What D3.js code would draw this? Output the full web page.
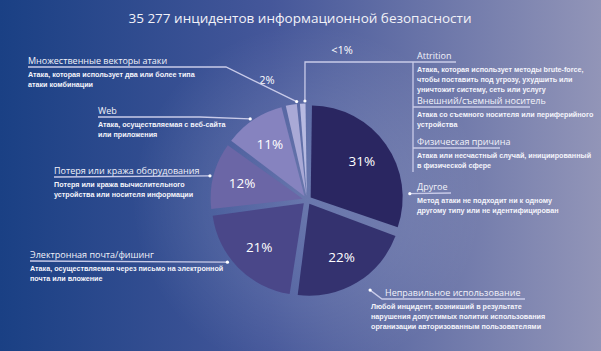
<!DOCTYPE html>
<html>
<head>
<meta charset="utf-8">
<script src="https://cdn.jsdelivr.net/npm/d3@7/dist/d3.min.js"></script>
<style>
  html, body { margin: 0; padding: 0; background: #1c4283; }
  svg { display: block; }
  .head { font-family: "Open Sans", sans-serif; font-size: 9px; fill: #f2f2fa; }
  .desc { font-family: "Liberation Sans Narrow", "Liberation Sans", sans-serif; font-stretch: condensed; font-weight: bold; font-size: 7.2px; fill: #f4f4fb; }
  .pct { font-family: "Open Sans", sans-serif; font-size: 13.5px; fill: #ffffff; }
</style>
</head>
<body>
<script>
// ---------- data ----------
const title = "35 277 инцидентов информационной безопасности";
const categories = [
  "Другое",
  "Неправильное использование",
  "Электронная почта/фишинг",
  "Потеря или кража оборудования",
  "Web",
  "Множественные векторы атаки",
  "Attrition / Внешний/съемный носитель / Физическая причина"
];
const values = [31, 22, 21, 12, 11, 2, 1];
const valueLabels = ["31%", "22%", "21%", "12%", "11%", "2%", "<1%"];
const sliceColors = ["#2a2661", "#34326f", "#4a4789", "#6b66a6", "#8683bf", "#a9a9d6", "#b7bae1"];

const headings = [
  "Другое",
  "Неправильное использование",
  "Электронная почта/фишинг",
  "Потеря или кража оборудования",
  "Web",
  "Множественные векторы атаки",
  "Attrition",
  "Внешний/съемный носитель",
  "Физическая причина"
];
const descriptions = [
  ["Метод атаки не подходит ни к одному", "другому типу или не идентифицирован"],
  ["Любой инцидент, возникший в результате", "нарушения допустимых политик использования", "организации авторизованным пользователями"],
  ["Атака, осуществляемая через письмо на электронной", "почта или вложение"],
  ["Потеря или кража вычислительного", "устройства или носителя информации"],
  ["Атака, осуществляемая с веб-сайта", "или приложения"],
  ["Атака, которая использует два или более типа", "атаки комбинации"],
  ["Атака, которая использует методы brute-force,", "чтобы поставить под угрозу, ухудшить или", "уничтожит систему, сеть или услугу"],
  ["Атака со съемного носителя или периферийного", "устройства"],
  ["Атака или несчастный случай, инициированный", "в физической сфере"]
];

// ---------- layout ----------
const W = 601, H = 351;
const cx = 307, cy = 200, R = 92, EXPLODE = 4.5;

const svg = d3.select("body").append("svg").attr("width", W).attr("height", H);
const defs = svg.append("defs");
const bg = defs.append("linearGradient").attr("id", "bg").attr("x1", 0).attr("x2", 1).attr("y1", 0).attr("y2", 0);
bg.append("stop").attr("offset", "0%").attr("stop-color", "#1a4084");
bg.append("stop").attr("offset", "45%").attr("stop-color", "#45579a");
bg.append("stop").attr("offset", "100%").attr("stop-color", "#9295b8");
const glow = defs.append("radialGradient").attr("id", "glow").attr("cx", 0.5).attr("cy", 0.5).attr("r", 0.5);
glow.append("stop").attr("offset", "0%").attr("stop-color", "#ffffff").attr("stop-opacity", 0.16);
glow.append("stop").attr("offset", "60%").attr("stop-color", "#ffffff").attr("stop-opacity", 0.08);
glow.append("stop").attr("offset", "100%").attr("stop-color", "#ffffff").attr("stop-opacity", 0);

svg.append("rect").attr("width", W).attr("height", H).attr("fill", "url(#bg)");
svg.append("circle").attr("cx", cx).attr("cy", cy).attr("r", 175).attr("fill", "url(#glow)");

svg.append("text").attr("x", 300).attr("y", 23).attr("text-anchor", "middle")
  .attr("font-family", "Open Sans, sans-serif").attr("font-size", 13.5).attr("fill", "#f2f2f8")
  .text(title);

// ---------- pie ----------
const pie = d3.pie().sort(null).value(d => d).padAngle(0.028);
const arcs = pie(values);
const arc = d3.arc().innerRadius(0).outerRadius(R);
const labelArc = d3.arc().innerRadius(R * 0.68).outerRadius(R * 0.68);
const shift = d => {
  const a = (d.startAngle + d.endAngle) / 2;
  return [EXPLODE * Math.sin(a), -EXPLODE * Math.cos(a)];
};

const g = svg.append("g").attr("transform", `translate(${cx},${cy})`);
g.selectAll("path").data(arcs).join("path")
  .attr("d", arc)
  .attr("transform", d => `translate(${shift(d)})`)
  .attr("fill", (d, i) => sliceColors[i]);

g.selectAll("text.pct").data(arcs.filter(d => d.value >= 10)).join("text")
  .attr("class", "pct")
  .attr("text-anchor", "middle")
  .attr("dy", "0.35em")
  .attr("transform", d => {
    const c = labelArc.centroid(d), s = shift(d);
    return `translate(${c[0] + s[0]},${c[1] + s[1]})`;
  })
  .text(d => valueLabels[d.index]);

// outer labels for small slices
svg.append("text").attr("class", "pct").style("font-size", "11px")
  .attr("x", 267).attr("y", 84).attr("text-anchor", "middle").text(valueLabels[5]);
svg.append("text").attr("class", "pct").style("font-size", "11px")
  .attr("x", 342).attr("y", 54).attr("text-anchor", "middle").text(valueLabels[6]);

// ---------- leaders & annotations ----------
const pt = (deg, r) => {
  const a = deg * Math.PI / 180;
  return [cx + r * Math.sin(a), cy - r * Math.cos(a)];
};
const lineCol = "#c9cbe9";
const lineG = svg.append("g").attr("fill", "none").attr("stroke", lineCol).attr("stroke-width", 1.3);
const dotG = svg.append("g").attr("fill", "#ffffff");
const line = d3.line();

function leader(points, dot) {
  lineG.append("path").attr("d", line(points));
  if (dot) dotG.append("circle").attr("cx", dot[0]).attr("cy", dot[1]).attr("r", 1.6);
}

function annot(i, x, ul, anchorX) {
  svg.append("text").attr("class", "head").attr("x", x).attr("y", ul - 3.5).text(headings[i]);
  descriptions[i].forEach((t, k) => {
    svg.append("text").attr("class", "desc").attr("x", anchorX !== undefined ? anchorX : x)
      .attr("y", ul + 10 + k * 9.8).text(t);
  });
}

// Множественные векторы атаки
let d = pt(354, 99);
leader([[28, 67], [226, 67], d], d);
annot(5, 28, 67);
// Web
d = pt(325, 99);
leader([[98, 117], [200, 117], d], d);
annot(4, 98, 117);
// Потеря или кража
d = pt(284, 100);
leader([[54, 177], d], d);
annot(3, 54, 177);
// Электронная почта
d = pt(232, 101);
leader([[30, 261], d], d);
annot(2, 30, 261);
// Другое
d = pt(86.5, 103);
leader([d, [451, 193]], d);
annot(0, 417, 193, 417);
// Неправильное использование
d = pt(145, 110);
leader([d, [382, 299], [525, 299]], d);
annot(1, 385, 299, 371);
// <1% group
d = pt(358.8, 99);
leader([d, [305, 62], [456, 62]], d);
leader([[413, 62], [413, 172]]);
leader([[413, 107], [530, 107]]);
leader([[413, 148], [500, 148]]);
annot(6, 417, 62);
annot(7, 417, 107);
annot(8, 417, 148);
</script>
</body>
</html>
